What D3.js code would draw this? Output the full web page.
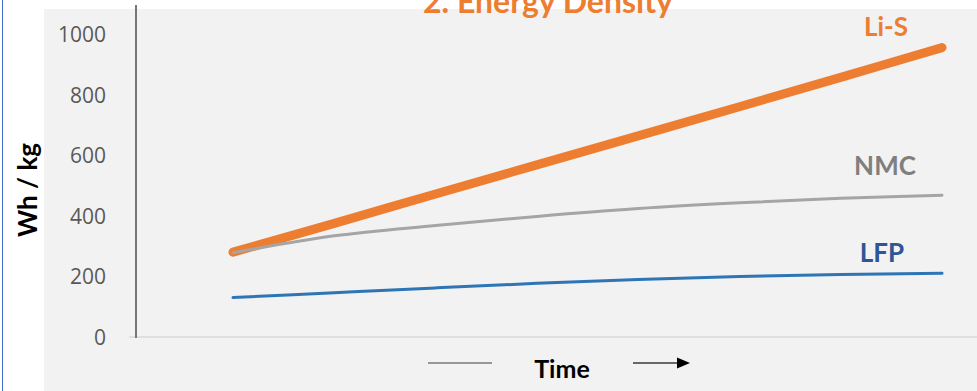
<!DOCTYPE html>
<html>
<head>
<meta charset="utf-8">
<script src="https://cdn.jsdelivr.net/npm/d3@7/dist/d3.min.js"></script>
<style>
  html, body { margin: 0; padding: 0; background: #ffffff; }
  svg { display: block; }
</style>
</head>
<body>
<svg id="chart" width="977" height="391"></svg>
<script>
// Time steps (unlabelled on the axis) and energy density per chemistry, Wh/kg
const steps = ["t0", "t1", "t2", "t3", "t4", "t5", "t6", "t7"];
const lisValues = [280, 375, 472, 568, 664, 760, 857, 955];
const nmcValues = [278, 334, 368, 398, 424, 443, 458, 468];
const lfpValues = [130, 146, 162, 177, 190, 200, 206, 210];
const yTicks = [0, 200, 400, 600, 800, 1000];
const seriesNames = ["Li-S", "NMC", "LFP"];

const svg = d3.select("#chart");
const W = 977, H = 391;

// Panel background
svg.append("rect").attr("x", 0).attr("y", 0).attr("width", W).attr("height", H).attr("fill", "#ffffff");
svg.append("rect").attr("x", 44).attr("y", 9).attr("width", W - 44).attr("height", H - 9).attr("fill", "#f2f2f2");
svg.append("line").attr("x1", 2.5).attr("x2", 2.5).attr("y1", 0).attr("y2", H)
  .attr("stroke", "#4472c4").attr("stroke-width", 1);

const x = d3.scalePoint().domain(steps).range([233, 942]).padding(0);
const y = d3.scaleLinear().domain([0, 1000]).range([337, 34]);

// Baseline at zero
svg.append("line").attr("x1", 129).attr("x2", W).attr("y1", y(0)).attr("y2", y(0))
  .attr("stroke", "#d9d9d9").attr("stroke-width", 1.5);

// Y axis with labels
const yAxis = d3.axisLeft(y).tickValues(yTicks).tickSize(0).tickPadding(0).tickFormat(d3.format("d"));
const yG = svg.append("g").attr("transform", "translate(106,0)").call(yAxis);
yG.select(".domain").remove();
yG.selectAll("text")
  .attr("font-family", "'Open Sans', sans-serif")
  .attr("font-size", 21)
  .attr("fill", "#595959")
  .attr("dy", "0.36em");

svg.append("line").attr("x1", 136).attr("x2", 136).attr("y1", 5).attr("y2", 338)
  .attr("stroke", "#767676").attr("stroke-width", 2);

// Series lines
const line = d3.line()
  .x((d, i) => x(steps[i]))
  .y(d => y(d))
  .curve(d3.curveCatmullRom.alpha(0.5));

const series = [
  { name: seriesNames[2], values: lfpValues, color: "#2e75b6", width: 3 },
  { name: seriesNames[0], values: lisValues, color: "#ed7d31", width: 9 },
  { name: seriesNames[1], values: nmcValues, color: "#a5a5a5", width: 3 }
];
svg.selectAll("path.series").data(series).enter().append("path")
  .attr("class", "series")
  .attr("d", d => line(d.values))
  .attr("fill", "none")
  .attr("stroke", d => d.color)
  .attr("stroke-width", d => d.width)
  .attr("stroke-linecap", "round")
  .attr("stroke-linejoin", "round");

// Series labels
const labelFont = "Lato, 'Open Sans', sans-serif";
const labels = [
  { text: seriesNames[0], x: 886, y: 36, color: "#ed7d31" },
  { text: seriesNames[1], x: 885, y: 175, color: "#7f7f7f" },
  { text: seriesNames[2], x: 882, y: 262, color: "#2f5597" }
];
svg.selectAll("text.serieslabel").data(labels).enter().append("text")
  .attr("class", "serieslabel")
  .attr("x", d => d.x).attr("y", d => d.y)
  .attr("text-anchor", "middle")
  .attr("font-family", labelFont)
  .attr("font-weight", 700)
  .attr("font-size", 26)
  .attr("fill", d => d.color)
  .text(d => d.text);

// Title, partly above the panel
svg.append("text")
  .attr("x", 548).attr("y", 12.5)
  .attr("text-anchor", "middle")
  .attr("font-family", labelFont)
  .attr("font-weight", 700)
  .attr("font-size", 32)
  .attr("fill", "#ed7d31")
  .text("2. Energy Density");

// Y axis title
svg.append("text")
  .attr("transform", "translate(37,190) rotate(-90)")
  .attr("text-anchor", "middle")
  .attr("font-family", labelFont)
  .attr("font-weight", 700)
  .attr("font-size", 26)
  .attr("fill", "#000000")
  .text("Wh / kg");

// X axis title with direction arrow
svg.append("text")
  .attr("x", 562).attr("y", 378)
  .attr("text-anchor", "middle")
  .attr("font-family", labelFont)
  .attr("font-weight", 700)
  .attr("font-size", 25)
  .attr("fill", "#000000")
  .text("Time");

svg.append("line").attr("x1", 428).attr("x2", 492).attr("y1", 363).attr("y2", 363)
  .attr("stroke", "#7a7a7a").attr("stroke-width", 1.5);
svg.append("line").attr("x1", 633).attr("x2", 678).attr("y1", 363).attr("y2", 363)
  .attr("stroke", "#3a3a3a").attr("stroke-width", 1.5);
svg.append("path").attr("d", "M677,357.5 L690,363 L677,368.5 Z").attr("fill", "#000000");
</script>
</body>
</html>
